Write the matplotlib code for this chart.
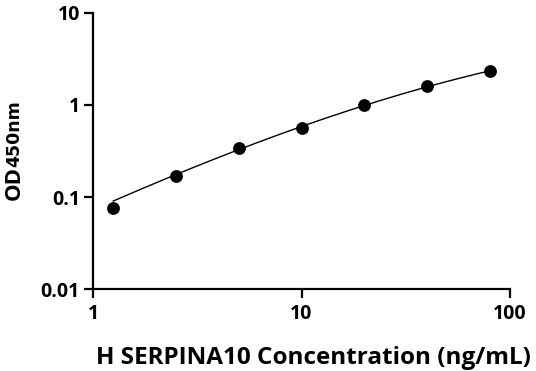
import numpy as np
import matplotlib
matplotlib.use('Agg')
import matplotlib.pyplot as plt
from matplotlib.ticker import FixedLocator, NullLocator

plt.rcParams['font.family'] = ['Open Sans', 'DejaVu Sans']

# standard points
conc = [1.25, 2.5, 5, 10, 20, 40, 80]
od = [0.075, 0.170, 0.345, 0.567, 0.99, 1.61, 2.34]
# fitted curve at the standard concentrations
curve_conc = [1.25, 2.5, 5, 10, 20, 40, 80]
curve_od = [0.091, 0.170, 0.345, 0.565, 0.98, 1.60, 2.34]

x_ticks = [1, 10, 100]
x_labels = ['1', '10', '100']
y_ticks = [0.01, 0.1, 1, 10]
y_labels = ['0.01', '0.1', '1', '10']

fig = plt.figure(figsize=(5.36, 3.71), dpi=100)
ax = fig.add_axes([0.1735, 0.221, 0.778, 0.744])

# smooth the fit line in log space
lx = np.log10(curve_conc)
ly = np.log10(curve_od)
p = np.polyfit(lx, ly, 3)
xs = np.linspace(lx[0], lx[-1], 200)
ax.plot(10 ** xs, 10 ** np.polyval(p, xs), color='black', lw=1.0, zorder=2)
ax.plot(conc, od, 'o', color='black', ms=8.2, zorder=3)

ax.set_xscale('log')
ax.set_yscale('log')
ax.set_xlim(1, 100)
ax.set_ylim(0.01, 10)
ax.xaxis.set_major_locator(FixedLocator(x_ticks))
ax.yaxis.set_major_locator(FixedLocator(y_ticks))
ax.xaxis.set_minor_locator(NullLocator())
ax.yaxis.set_minor_locator(NullLocator())
ax.set_xticklabels(x_labels, fontsize=14, fontweight='bold')
ax.set_yticklabels(y_labels, fontsize=14, fontweight='bold')
ax.tick_params(width=1.6, length=6.5, color='black')
ax.tick_params(axis='x', pad=4)
ax.tick_params(axis='y', pad=3)

for s in ['top', 'right']:
    ax.spines[s].set_visible(False)
for s in ['left', 'bottom']:
    ax.spines[s].set_linewidth(1.6)
ax.patch.set_alpha(0)

ax.set_xlabel('H SERPINA10 Concentration (ng/mL)', fontsize=17.5,
              fontweight='bold')
ax.xaxis.set_label_coords(0.528, -0.25)
ax.xaxis.label.set_va('center')

fig.text(0.026, 0.508, 'OD', rotation=90, fontsize=16,
         fontweight='bold', ha='center', va='center')
fig.text(0.027, 0.639, '450nm', rotation=90, fontsize=12.5,
         fontweight='bold', family=['DejaVu Sans'], ha='center', va='center')

fig.savefig('out.png', dpi=100)
